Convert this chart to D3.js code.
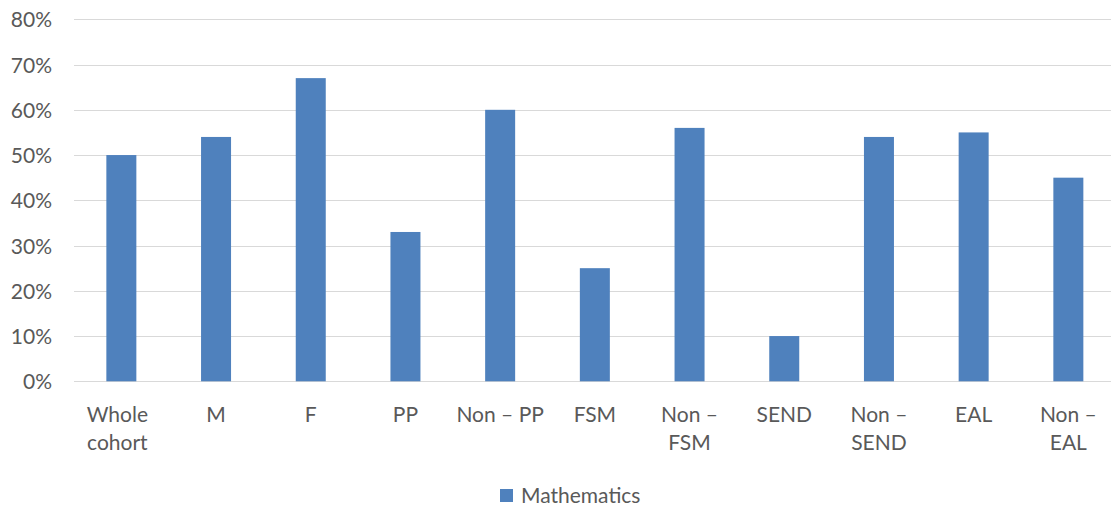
<!DOCTYPE html>
<html><head><meta charset="utf-8">
<script src="https://cdn.jsdelivr.net/npm/d3@7"></script>
<style>body{margin:0;background:#fff;}svg{display:block;font-family:Lato,"Open Sans",sans-serif;}</style>
</head><body>
<svg id="c" width="1111" height="508"></svg>
<script>
const categories = ["Whole cohort","M","F","PP","Non – PP","FSM","Non – FSM","SEND","Non – SEND","EAL","Non – EAL"];
const labelLines = [["Whole","cohort"],["M"],["F"],["PP"],["Non – PP"],["FSM"],["Non –","FSM"],["SEND"],["Non –","SEND"],["EAL"],["Non –","EAL"]];
const mathematics = [50,54,67,33,60,25,56,10,54,55,45];
const yTicks = [0,10,20,30,40,50,60,70,80];
const seriesName = "Mathematics";

const svg = d3.select("#c");
const x = d3.scaleBand().domain(categories).range([74, 1115.7]).paddingInner(0).paddingOuter(0);
const y = d3.scaleLinear().domain([0,80]).range([381.3, 19.3]);
const barW = 30;
const color = "#4F81BD";
const textColor = "#595959";
const fs = 21;

// gridlines
svg.append("g").selectAll("line").data(yTicks).join("line")
  .attr("x1",74).attr("x2",1111)
  .attr("y1",d=>Math.round(y(d))+0.5).attr("y2",d=>Math.round(y(d))+0.5)
  .attr("stroke","#d9d9d9").attr("stroke-width",1);

// y axis labels
const yAxis = d3.axisLeft(y).tickValues(yTicks).tickFormat(d=>d+"%").tickSize(0).tickPadding(0);
const ga = svg.append("g").attr("transform","translate(52,0)").call(yAxis);
ga.select(".domain").remove();
ga.selectAll("text").attr("fill",textColor).attr("font-size",fs).attr("font-family","Lato,'Open Sans',sans-serif").attr("dy","0.36em");

// bars
svg.append("g").selectAll("rect").data(mathematics).join("rect")
  .attr("x",(d,i)=>x(categories[i])+x.bandwidth()/2-barW/2)
  .attr("width",barW)
  .attr("y",d=>y(d))
  .attr("height",d=>y(0)-y(d))
  .attr("fill",color);

// x labels
const xl = svg.append("g");
categories.forEach((c,i)=>{
  const cx = x(c)+x.bandwidth()/2 + (i===0 ? -4 : 0);
  const t = xl.append("text").attr("text-anchor","middle").attr("fill",textColor).attr("font-size",fs)
    .attr("x",cx).attr("y",421.5);
  labelLines[i].forEach((ln,j)=>{
    t.append("tspan").attr("x",cx).attr("dy", j===0?0:28).text(ln);
  });
});

// legend
svg.append("rect").attr("x",500).attr("y",489).attr("width",13).attr("height",13).attr("fill",color);
svg.append("text").attr("x",521).attr("y",502.5).attr("fill",textColor).attr("font-size",fs).text(seriesName);
</script>
</body></html>
